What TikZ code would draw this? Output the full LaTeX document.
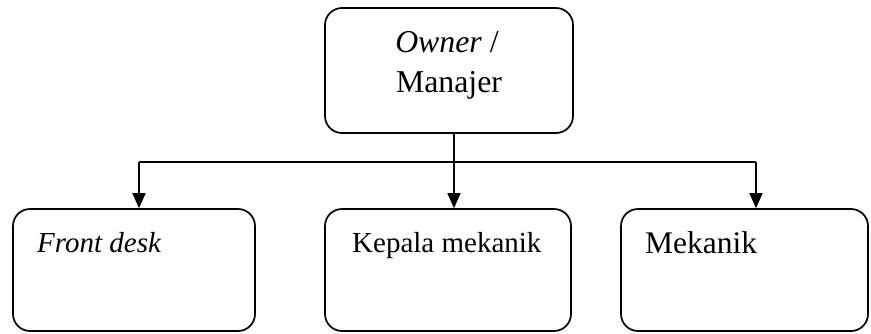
\documentclass[tikz,border=0pt]{standalone}
\usepackage{fontspec}
\setmainfont{Liberation Serif}
\usetikzlibrary{arrows.meta}
\begin{document}
\begin{tikzpicture}[x=1pt,y=1pt,
  box/.style={draw, line width=1.7pt, rounded corners=17pt, inner sep=0pt},
  lbl/.style={inner sep=0pt, font=\fontsize{29}{34}\selectfont},
  toplbl/.style={inner sep=0pt, font=\fontsize{31.8}{36}\selectfont},
  conn/.style={line width=1.7pt},
  arr/.style={conn, -{Triangle[length=15pt,width=13pt]}}]
\useasboundingbox (0,0) rectangle (871,333);
% boxes
\node[box, minimum width=248pt, minimum height=125pt] (top) at (449,262.5) {};
\node[box, minimum width=242pt, minimum height=122pt] (b1) at (134,63) {};
\node[box, minimum width=246pt, minimum height=122pt] (b2) at (448,63) {};
\node[box, minimum width=247pt, minimum height=122pt] (b3) at (744.5,63) {};
% texts
\node[toplbl, anchor=base] (t1) at (447,280) {\textit{Owner} /};
\node[toplbl, anchor=base] (t2) at (449,241) {Manajer};
\node[lbl, anchor=base west] (l1) at (37,81) {\textit{Front desk}};
\node[lbl, anchor=base west] (l2) at (352,81) {Kepala mekanik};
\node[lbl, anchor=base west, font=\fontsize{31.5}{36}\selectfont] (l3) at (645,80) {Mekanik};
% connectors
\coordinate (j) at (454,171);
\coordinate (jl) at (139,171);
\coordinate (jr) at (756,171);
\draw[conn] (top.south -| j) -- (j);
\draw[conn] (jl) -- (jr);
\draw[arr] (jl) -- (jl |- b1.north);
\draw[arr] (j) -- (j |- b2.north);
\draw[arr] (jr) -- (jr |- b3.north);
\end{tikzpicture}
\end{document}
